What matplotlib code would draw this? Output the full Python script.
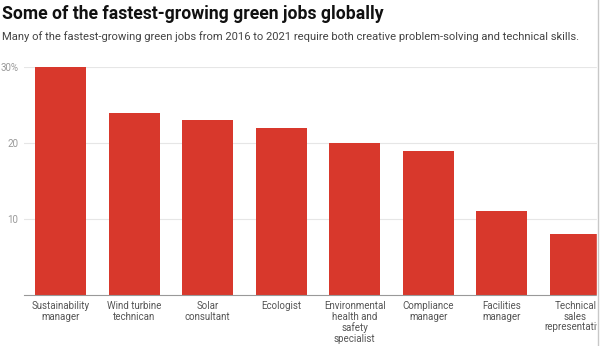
import matplotlib.pyplot as plt
from matplotlib.lines import Line2D
from matplotlib.patches import Rectangle

plt.rcParams['font.family'] = ['Roboto', 'DejaVu Sans']

jobs = ['Sustainability\nmanager', 'Wind turbine\ntechnican', 'Solar\nconsultant',
        'Ecologist', 'Environmental\nhealth and\nsafety\nspecialist',
        'Compliance\nmanager', 'Facilities\nmanager', 'Technical\nsales\nrepresentative']
growth = [30, 24, 23, 22, 20, 19, 11, 8]
yticks = [10, 20, 30]
ylabels = ['10', '20', '30%']

W, H = 600, 346
fig = plt.figure(figsize=(W / 100, H / 100), dpi=100)

# plot area runs past the right edge, the last column is cut off
left, right, bottom, top = 24, 612, 295, 67
ax = fig.add_axes([left / W, 1 - bottom / H, (right - left) / W, (bottom - top) / H])
x = range(len(jobs))
ax.bar(x, growth, width=0.7, color='#d8382c', zorder=2)
ax.set_xlim(-0.5, len(jobs) - 0.5)
ax.set_ylim(0, 30)

ax.set_yticks(yticks)
ax.set_yticklabels(ylabels)
ax.set_xticks(list(x))
ax.set_xticklabels(jobs, linespacing=1.12)
ax.tick_params(axis='y', length=0, pad=4, labelsize=7, labelcolor='#999999')
ax.tick_params(axis='x', length=0, pad=4, labelsize=7, labelcolor='#555555')
ax.grid(axis='y', color='#e6e6e6', linewidth=0.8, zorder=0)
for s in ['top', 'right', 'left']:
    ax.spines[s].set_visible(False)
ax.spines['bottom'].set_color('#999999')
ax.spines['bottom'].set_linewidth(0.8)

fig.text(2 / W, 1 - 14 / H, 'Some of the fastest-growing green jobs globally',
         fontsize=12.7, fontweight='bold', color='#111111', va='center', ha='left')
fig.text(2 / W, 1 - 37 / H,
         'Many of the fastest-growing green jobs from 2016 to 2021 require both creative '
         'problem-solving and technical skills.',
         fontsize=8.1, color='#444444', va='center', ha='left')

# right-hand border
fig.add_artist(Rectangle((597 / W, 0), 3 / W, 1, transform=fig.transFigure,
                         color='white', zorder=10))
fig.add_artist(Line2D([597.5 / W, 597.5 / W], [0, 1], transform=fig.transFigure,
                      color='#c8c8c8', linewidth=1, zorder=11))

fig.savefig('out.png', dpi=100)
